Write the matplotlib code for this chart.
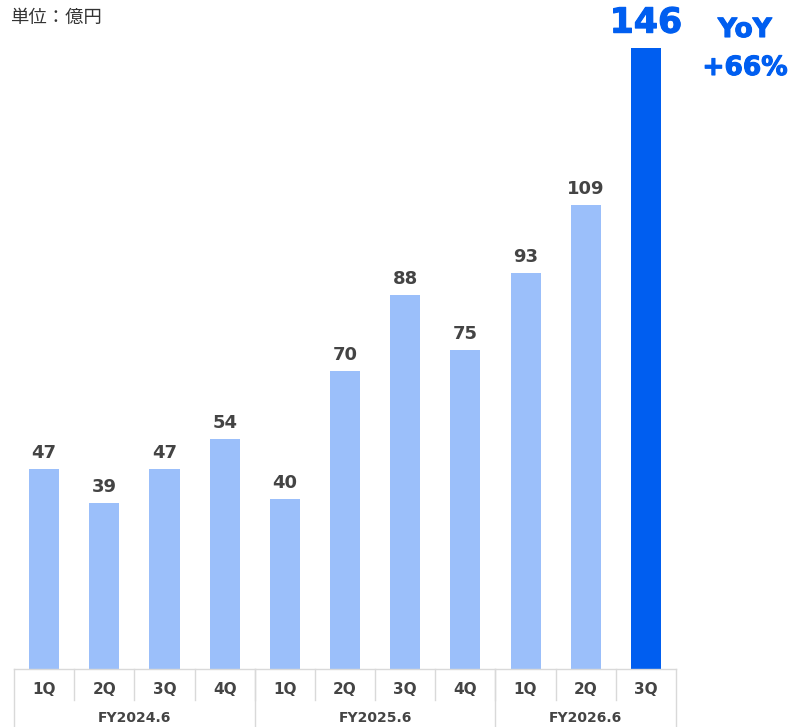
import matplotlib.pyplot as plt
import matplotlib.patheffects as pe
from matplotlib.lines import Line2D

# quarterly figures (units: 100M JPY)
quarters = ["1Q", "2Q", "3Q", "4Q", "1Q", "2Q", "3Q", "4Q", "1Q", "2Q", "3Q"]
fiscal_years = ["FY2024.6", "FY2025.6", "FY2026.6"]
year_sizes = [4, 4, 3]
values = [47, 39, 47, 54, 40, 70, 88, 75, 93, 109, 146]
yoy_lines = ["YoY", "+66%"]

light = "#9BBFFA"
accent = "#005EF0"
label_gray = "#444444"
line_gray = "#D9D9D9"
font = "DejaVu Sans"
thick = [pe.withStroke(linewidth=0.8, foreground=accent)]

W, H = 794, 727
fig = plt.figure(figsize=(W / 100, H / 100), dpi=100)

base_px = 669
px_per_unit = 621 / 146
ax = fig.add_axes([14 / W, (H - base_px) / H, (676 - 14) / W, base_px / H])
ax.set_xlim(-0.5, len(values) - 0.5)
ax.set_ylim(0, base_px / px_per_unit)
ax.axis("off")

colors = [light] * (len(values) - 1) + [accent]
x = range(len(values))
ax.bar(x, values, width=0.5, color=colors)

for i, v in enumerate(values):
    if i == len(values) - 1:
        ax.annotate(str(v), (i, v), xytext=(0, 6), textcoords="offset points",
                    ha="center", va="bottom", fontsize=25, fontweight="bold",
                    color=accent, family=font, path_effects=thick)
    else:
        ax.annotate(str(v), (i, v), xytext=(0, 5), textcoords="offset points",
                    ha="center", va="bottom", fontsize=13, fontweight="bold",
                    color=label_gray, family=font)

# category table under the bars
row_mid = -31 / px_per_unit
row_bot = -58 / px_per_unit
n = len(values)
kw = dict(color=line_gray, lw=1, clip_on=False)
ax.add_line(Line2D([-0.5, n - 0.5], [0, 0], **kw))
for i in range(1, n):
    ax.add_line(Line2D([i - 0.5, i - 0.5], [0, row_mid], **kw))
ax.add_line(Line2D([-0.5, -0.5], [0, row_bot], **kw))
start = 0
for name, size in zip(fiscal_years, year_sizes):
    end = start + size
    ax.add_line(Line2D([end - 0.5, end - 0.5], [0, row_bot], **kw))
    ax.text((start + end - 1) / 2, -49 / px_per_unit, name,
            ha="center", va="center", fontsize=10, fontweight="bold",
            color=label_gray, family=font, clip_on=False)
    start = end
for i, q in enumerate(quarters):
    ax.text(i, -20 / px_per_unit, q, ha="center", va="center", fontsize=11,
            fontweight="bold", color=label_gray, family=font, clip_on=False)

fig.text(10 / W, 1 - 18 / H, "単位：億円", ha="left", va="center",
         fontsize=13.2, color="#333333", family=["Noto Sans CJK JP", "DejaVu Sans"])
for txt, y_px in zip(yoy_lines, [30, 68]):
    fig.text(745 / W, 1 - y_px / H, txt, ha="center", va="center",
             fontsize=19, fontweight="bold", color=accent, family=font,
             path_effects=thick)

fig.savefig("out.png", dpi=100)
